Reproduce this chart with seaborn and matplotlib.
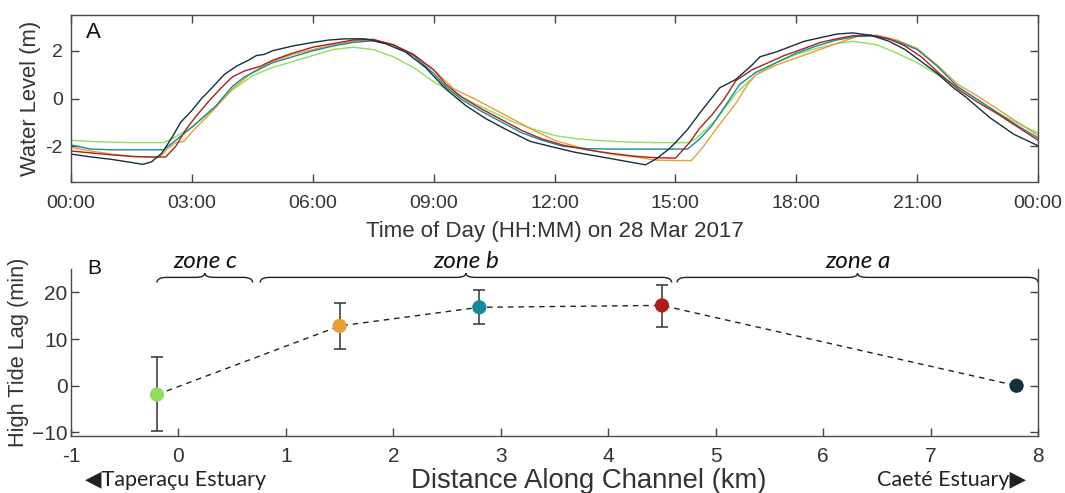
import numpy as np
import pandas as pd
import matplotlib
matplotlib.use("Agg")
import matplotlib.pyplot as plt
import seaborn as sns
from matplotlib.path import Path
from matplotlib.patches import PathPatch

# ---------------- data: panel A (water level, m) ----------------
navy_t = [0, 0.5, 1, 1.5, 1.78, 2.0, 2.25, 2.5, 2.72, 3.0, 3.24, 3.5, 3.8, 4.1, 4.4, 4.6, 4.8, 5.0, 5.5, 6.0,
          6.4, 6.8, 7.3, 7.8, 8.3, 8.8, 9.3, 9.8, 10.3, 10.8, 11.4, 12.0, 12.5, 13.0, 13.5, 14.26, 14.55, 14.85,
          15.0, 15.3, 15.6, 16.1, 16.5, 16.9, 17.1, 17.5, 18.2, 19.0, 19.4, 19.85, 20.3, 20.7, 21.1, 21.5, 21.9,
          22.2, 22.8, 23.4, 24]
navy_v = [-2.33, -2.45, -2.55, -2.68, -2.76, -2.65, -2.3, -1.65, -1.0, -0.5, 0.0, 0.45, 1.0, 1.35, 1.6, 1.8, 1.85,
          2.0, 2.2, 2.35, 2.45, 2.5, 2.5, 2.3, 1.95, 1.3, 0.4, -0.3, -0.85, -1.3, -1.8, -2.05, -2.25, -2.4, -2.55,
          -2.78, -2.5, -2.1, -1.85, -1.3, -0.62, 0.45, 0.8, 1.4, 1.75, 1.95, 2.4, 2.7, 2.75, 2.65, 2.4, 2.05, 1.55,
          1.05, 0.45, 0.07, -0.8, -1.5, -1.98]

red_t = [0, 0.5, 1, 1.5, 2.0, 2.35, 2.6, 2.85, 3.1, 3.4, 3.7, 4.0, 4.3, 4.7, 5.0, 5.5, 6.0, 6.5, 7.0, 7.5, 8.0,
         8.5, 9.0, 9.3, 9.7, 10.2, 10.7, 11.2, 11.7, 12.2, 12.8, 13.4, 14.0, 14.5, 15.0, 15.35, 15.6, 15.9, 16.2,
         16.5, 16.9, 17.3, 17.7, 18.2, 18.6, 19.0, 19.4, 19.85, 20.3, 20.7, 21.1, 21.55, 22.05, 22.5, 23.0, 23.5, 24]
red_v = [-2.2, -2.28, -2.36, -2.43, -2.45, -2.45, -2.0, -1.3, -0.75, -0.15, 0.4, 0.9, 1.15, 1.35, 1.6, 1.9, 2.15,
         2.3, 2.45, 2.48, 2.25, 1.85, 1.2, 0.6, 0.05, -0.45, -0.9, -1.35, -1.7, -1.95, -2.15, -2.3, -2.42, -2.48,
         -2.5, -1.85, -1.25, -0.7, -0.05, 0.75, 1.2, 1.5, 1.8, 2.1, 2.35, 2.5, 2.63, 2.65, 2.5, 2.2, 1.75, 1.05,
         0.35, -0.15, -0.65, -1.2, -1.75]

teal_t = [0, 0.5, 1, 1.5, 2.0, 2.3, 2.6, 3.0, 3.3, 3.6, 4.0, 4.3, 4.7, 5.0, 5.5, 6.0, 6.5, 7.0, 7.5, 8.0, 8.5, 9.0,
          9.3, 9.7, 10.2, 10.7, 11.2, 11.7, 12.2, 12.8, 13.5, 14.5, 15.3, 15.6, 15.9, 16.3, 16.6, 17.0, 17.5, 18.0,
          18.5, 19.0, 19.5, 20.0, 20.5, 21.0, 21.5, 22.0, 22.5, 23.0, 23.5, 24]
teal_v = [-1.95, -2.12, -2.15, -2.15, -2.15, -2.15, -1.75, -1.2, -0.75, -0.3, 0.5, 0.9, 1.25, 1.5, 1.75, 2.0, 2.2,
          2.35, 2.42, 2.25, 1.8, 1.05, 0.5, -0.05, -0.55, -1.0, -1.45, -1.75, -2.0, -2.1, -2.12, -2.12, -2.12, -1.7,
          -1.15, -0.15, 0.6, 1.1, 1.5, 1.9, 2.2, 2.45, 2.6, 2.62, 2.4, 2.05, 1.35, 0.5, -0.05, -0.6, -1.15, -1.65]

orange_t = [0, 0.5, 1, 1.5, 1.8, 2.2, 2.4, 2.6, 2.8, 3.0, 3.5, 4.0, 4.5, 5.0, 5.5, 6.0, 6.5, 7.0, 7.5, 8.0, 8.5,
            9.0, 9.5, 10.0, 10.5, 11.0, 11.5, 12.0, 12.5, 13.0, 13.5, 14.0, 14.5, 15.0, 15.4, 15.7, 16.0, 16.5,
            16.8, 17.0, 17.5, 18.0, 18.5, 19.0, 19.5, 20.0, 20.5, 21.0, 21.5, 22.0, 22.5, 23.0, 23.5, 24]
orange_v = [-2.05, -2.2, -2.33, -2.42, -2.45, -2.45, -2.1, -1.85, -1.8, -1.4, -0.55, 0.4, 1.1, 1.55, 1.85, 2.05,
            2.25, 2.4, 2.45, 2.25, 1.8, 1.2, 0.4, 0.0, -0.45, -0.9, -1.35, -1.75, -2.0, -2.2, -2.35, -2.45, -2.58,
            -2.6, -2.6, -2.0, -1.3, -0.2, 0.6, 1.0, 1.4, 1.7, 2.0, 2.3, 2.6, 2.65, 2.45, 2.1, 1.4, 0.6, 0.1, -0.45,
            -1.0, -1.55]

green_t = [0, 0.5, 1, 1.5, 2.0, 2.3, 2.6, 3.0, 3.5, 4.0, 4.5, 5.0, 5.5, 6.0, 6.5, 7.0, 7.5, 8.0, 8.5, 9.0, 9.5,
           10.0, 10.5, 11.0, 11.5, 12.0, 12.5, 13.0, 13.5, 14.0, 14.5, 15.3, 15.5, 16.0, 16.5, 17.0, 17.5, 18.0,
           18.5, 19.0, 19.4, 20.0, 20.5, 21.0, 21.5, 22.0, 22.5, 23.0, 23.5, 24]
green_v = [-1.75, -1.8, -1.83, -1.85, -1.85, -1.85, -1.6, -1.2, -0.5, 0.35, 0.95, 1.3, 1.55, 1.8, 2.05, 2.15, 2.05,
           1.75, 1.3, 0.7, 0.25, -0.2, -0.6, -1.0, -1.3, -1.55, -1.68, -1.75, -1.8, -1.83, -1.85, -1.85, -1.7, -0.9,
           0.2, 1.0, 1.5, 1.85, 2.1, 2.3, 2.4, 2.25, 1.9, 1.5, 1.0, 0.5, -0.05, -0.6, -1.05, -1.45]

time_ticks = [0, 3, 6, 9, 12, 15, 18, 21, 24]
time_labels = ["00:00", "03:00", "06:00", "09:00", "12:00", "15:00", "18:00", "21:00", "00:00"]

# ---------------- data: panel B (high tide lag) ----------------
stations = ["green", "orange", "teal", "red", "navy"]
distance_km = [-0.2, 1.5, 2.8, 4.5, 7.8]
lag_min = [-1.9, 12.8, 16.8, 17.2, 0.0]
lag_upper = [6.2, 17.8, 20.5, 21.6, 0.0]
lag_lower = [-9.6, 7.9, 13.2, 12.5, 0.0]

zone_names = ["zone c", "zone b", "zone a"]
zone_start = [-0.2, 0.76, 4.64]
zone_end = [0.69, 4.59, 8.0]

colors = {"navy": "#14303d", "red": "#ad1f1c", "teal": "#178a99",
          "orange": "#eb9e35", "green": "#8fde5c"}

# ---------------- style ----------------
sns.set_theme(style="white")
plt.rcParams["font.family"] = ["Liberation Sans", "DejaVu Sans"]
plt.rcParams.update({
    "axes.edgecolor": "#4a4a4a",
    "axes.linewidth": 1.0,
    "xtick.direction": "in",
    "ytick.direction": "in",
    "xtick.color": "#444444",
    "ytick.color": "#444444",
    "xtick.labelcolor": "#333333",
    "ytick.labelcolor": "#333333",
    "xtick.major.size": 6,
    "ytick.major.size": 6,
    "xtick.major.width": 1.0,
    "ytick.major.width": 1.0,
})

fig = plt.figure(figsize=(10.65, 4.93), dpi=100)
axA = fig.add_axes([0.0667, 0.6308, 0.908, 0.3388])
axB = fig.add_axes([0.0667, 0.1162, 0.908, 0.3382])

# ---------------- panel A ----------------
series = [("green", green_t, green_v), ("orange", orange_t, orange_v), ("teal", teal_t, teal_v),
          ("red", red_t, red_v), ("navy", navy_t, navy_v)]
frames = [pd.DataFrame({"hour": t, "level": v, "station": n}) for n, t, v in series]
dfA = pd.concat(frames, ignore_index=True)
sns.lineplot(data=dfA, x="hour", y="level", hue="station", palette=colors,
             hue_order=[s[0] for s in series], linewidth=1.0, legend=False, ax=axA,
             estimator=None, sort=False)
axA.set_xlim(0, 24)
axA.set_ylim(-3.5, 3.5)
axA.set_xticks(time_ticks)
axA.set_xticklabels(time_labels)
axA.set_yticks([-2, 0, 2])
axA.set_yticklabels(["-2", "0", "2"])
axA.tick_params(axis="both", which="major", labelsize=14, bottom=True, left=True, top=True, right=True,
                labeltop=False, labelright=False)
axA.tick_params(axis="x", pad=9)
axA.tick_params(axis="y", pad=6)
axA.set_xlabel("Time of Day (HH:MM) on 28 Mar 2017", fontsize=16, color="#333333", labelpad=7)
axA.set_ylabel("Water Level (m)", fontsize=15.8, color="#333333")
axA.yaxis.set_label_coords(-0.031, 0.5)
for sp in axA.spines.values():
    sp.set_visible(True)
axA.text(0.0155, 0.895, "A", transform=axA.transAxes, fontsize=16, color="#111111", va="center")

# ---------------- panel B ----------------
dfB = pd.DataFrame({"distance": distance_km, "lag": lag_min, "station": stations})
axB.plot(dfB["distance"], dfB["lag"], linestyle=(0, (4, 3.5)), color="#222222", linewidth=1.0, zorder=2)
yerr = [np.array(lag_min) - np.array(lag_lower), np.array(lag_upper) - np.array(lag_min)]
axB.errorbar(distance_km, lag_min, yerr=yerr, fmt="none", ecolor="#333333", elinewidth=1.1,
             capsize=4.5, capthick=1.1, zorder=3)
sns.scatterplot(data=dfB, x="distance", y="lag", hue="station", palette=colors, s=105,
                edgecolor="none", legend=False, ax=axB, zorder=4)
axB.set_xlim(-1, 8)
axB.set_ylim(-10.7, 25)
axB.set_xticks(range(-1, 9))
axB.set_xticklabels([str(i) for i in range(-1, 9)])
axB.set_yticks([-10, 0, 10, 20])
axB.tick_params(axis="both", which="major", labelsize=15, bottom=True, left=True, right=True, top=False,
                labelright=False)
axB.tick_params(axis="x", pad=8)
axB.tick_params(axis="y", pad=2.5)
axB.spines["top"].set_visible(False)
axB.spines["right"].set_visible(True)
axB.spines["left"].set_visible(True)
axB.spines["bottom"].set_visible(True)
axB.set_xlabel("Distance Along Channel (km)", fontsize=19.8, color="#333333")
axB.xaxis.set_label_coords(0.535, -0.27)
axB.xaxis.label.set_verticalalignment("center")
axB.set_ylabel("High Tide Lag (min)", fontsize=15.7, color="#333333")
axB.yaxis.set_label_coords(-0.043, 0.5)
axB.text(0.0165, 1.0, "B", transform=axB.transAxes, fontsize=15, color="#111111", va="center")

cal = ["Lato", "DejaVu Sans"]
axB.text(0.0145, -0.265, "\u25c0Taperaçu Estuary", transform=axB.transAxes, fontsize=15.5,
         family=cal, color="#222222", ha="left", va="center")
axB.text(0.988, -0.265, "Caeté Estuary\u25b6", transform=axB.transAxes, fontsize=15.5,
         family=cal, color="#222222", ha="right", va="center")


def brace(ax, x0, x1, y, h, r):
    xm = 0.5 * (x0 + x1)
    verts = [(x0, y - h), (x0, y), (x0 + r, y),
             (xm - r, y), (xm, y), (xm, y + h * 0.8),
             (xm, y), (xm + r, y),
             (x1 - r, y), (x1, y), (x1, y - h)]
    codes = [Path.MOVETO, Path.CURVE3, Path.CURVE3,
             Path.LINETO, Path.CURVE3, Path.CURVE3,
             Path.CURVE3, Path.CURVE3,
             Path.LINETO, Path.CURVE3, Path.CURVE3]
    patch = PathPatch(Path(verts, codes), facecolor="none", edgecolor="#222222",
                      linewidth=1.0, clip_on=False)
    ax.add_patch(patch)


for name, a, b in zip(zone_names, zone_start, zone_end):
    brace(axB, a, b, 23.2, 1.1, 0.09)
    axB.text(0.5 * (a + b), 26.6, name, fontsize=17.5, family=cal, style="italic",
             color="#111111", ha="center", va="center", clip_on=False)

fig.savefig("out.png", dpi=100)
